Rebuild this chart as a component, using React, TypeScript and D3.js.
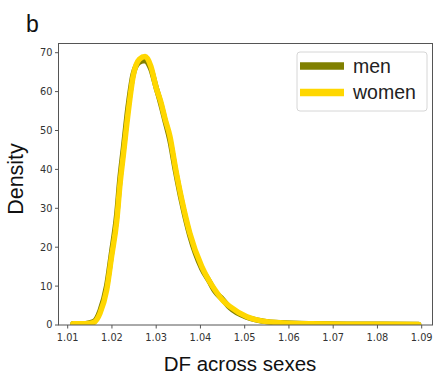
import React from "react";
import * as d3 from "d3";

// DF values (x grid shared by both density curves)
const dfGrid = [
  1.0112, 1.014, 1.0158, 1.0173, 1.0188, 1.0199, 1.0211, 1.0218, 1.0226, 1.0237,
  1.0248, 1.0262, 1.0275, 1.0288, 1.03, 1.031, 1.032, 1.0331, 1.0343, 1.0358,
  1.0376, 1.0403, 1.042, 1.0433, 1.045, 1.0467, 1.0505, 1.0541, 1.058, 1.065,
  1.075, 1.0893,
];

const menDensity = [
  0.3, 0.35, 0.8, 3.6, 10, 18.5, 28.5, 37.5, 45.5, 56.5,
  64.5, 67.6, 68, 65.8, 61, 57, 52.5, 47.5, 40, 31.5,
  23, 14.5, 11.2, 8.6, 6.6, 4.4, 2.0, 1.0, 0.55, 0.3,
  0.2, 0.15,
];

const womenDensity = [
  0.3, 0.3, 0.6, 3, 9, 17.5, 27, 36, 44, 55,
  64, 68.3, 69, 66.5, 61, 57.5, 53, 48.5, 40.7, 32.1,
  23.6, 15, 11.3, 9, 6.4, 4.7, 2.1, 1.0, 0.6, 0.3,
  0.2, 0.15,
];

const xTicks = [1.01, 1.02, 1.03, 1.04, 1.05, 1.06, 1.07, 1.08, 1.09];
const yTicks = [0, 10, 20, 30, 40, 50, 60, 70];

const seriesNames = ["men", "women"];
const seriesColors = ["#808000", "#ffd700"];

const W = 434;
const H = 374;
const plot = { left: 58.5, right: 432.5, top: 43.5, bottom: 325 };

export default function App() {
  const x = d3.scaleLinear().domain([1.01, 1.09]).range([67.7, 421.7]);
  const y = d3.scaleLinear().domain([0, 70]).range([plot.bottom, 52.7]);

  const line = d3
    .line<number>()
    .x((_, i) => x(dfGrid[i]))
    .y((d) => y(d))
    .curve(d3.curveMonotoneX);

  const series = [menDensity, womenDensity];
  const tickFont = "'DejaVu Sans', sans-serif";
  const labelFont = "'Liberation Sans', Arial, sans-serif";

  return (
    <svg
      width={W}
      height={H}
      style={{ position: "absolute", left: 0, top: 0, background: "#fff" }}
    >
      <defs>
        <clipPath id="plot-area">
          <rect
            x={plot.left}
            y={plot.top}
            width={plot.right - plot.left}
            height={plot.bottom - plot.top}
          />
        </clipPath>
      </defs>

      <text x={26} y={32} fontFamily={labelFont} fontSize={23} fill="#111">
        b
      </text>

      {/* density curves */}
      <g clipPath="url(#plot-area)">
        {series.map((s, i) => (
          <path
            key={seriesNames[i]}
            d={line(s) ?? ""}
            fill="none"
            stroke={seriesColors[i]}
            strokeWidth={i === 0 ? 5.5 : 5.5}
            strokeLinejoin="round"
            strokeLinecap="round"
          />
        ))}
      </g>

      {/* spines */}
      <rect
        x={plot.left}
        y={plot.top}
        width={plot.right - plot.left}
        height={plot.bottom - plot.top}
        fill="none"
        stroke="#555"
        strokeWidth={1}
      />

      {/* y axis */}
      {yTicks.map((t) => (
        <g key={`y${t}`}>
          <line x1={plot.left - 3.5} x2={plot.left} y1={y(t)} y2={y(t)} stroke="#555" />
          <text
            x={plot.left - 6}
            y={y(t)}
            dy="0.35em"
            textAnchor="end"
            fontFamily={tickFont}
            fontSize={9.8}
            fill="#333"
          >
            {t}
          </text>
        </g>
      ))}

      {/* x axis */}
      {xTicks.map((t) => (
        <g key={`x${t}`}>
          <line x1={x(t)} x2={x(t)} y1={plot.bottom} y2={plot.bottom + 3.5} stroke="#555" />
          <text
            x={x(t)}
            y={plot.bottom + 16}
            textAnchor="middle"
            fontFamily={tickFont}
            fontSize={9.8}
            fill="#333"
          >
            {t.toFixed(2)}
          </text>
        </g>
      ))}

      <text
        x={240}
        y={371}
        textAnchor="middle"
        fontFamily={labelFont}
        fontSize={20.5}
        fill="#111"
      >
        DF across sexes
      </text>

      <text
        transform={`translate(23,179) rotate(-90)`}
        textAnchor="middle"
        fontFamily={labelFont}
        fontSize={21.5}
        fill="#111"
      >
        Density
      </text>

      {/* legend */}
      <g>
        <rect
          x={297}
          y={52}
          width={130}
          height={59}
          rx={3}
          fill="#fff"
          fillOpacity={0.8}
          stroke="#d6d6d6"
          strokeWidth={1}
        />
        {seriesNames.map((name, i) => (
          <g key={name} transform={`translate(0, ${66 + i * 26.5})`}>
            <line x1={300} x2={344} y1={0} y2={0} stroke={seriesColors[i]} strokeWidth={7.5} />
            <text
              x={353}
              y={0}
              dy="0.35em"
              fontFamily={labelFont}
              fontSize={19.5}
              fill="#222"
            >
              {name}
            </text>
          </g>
        ))}
      </g>
    </svg>
  );
}
